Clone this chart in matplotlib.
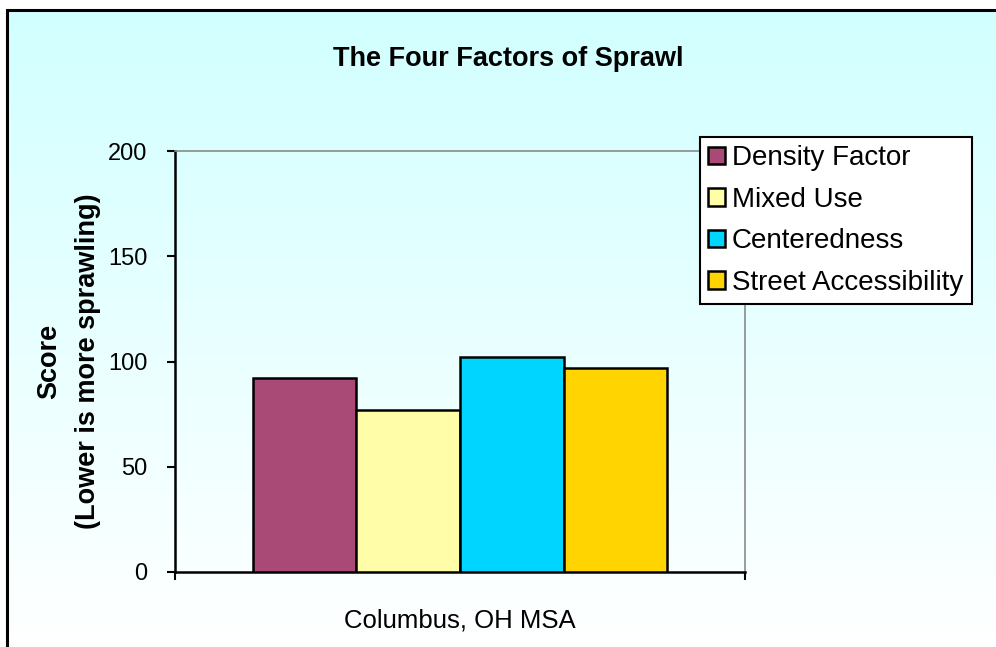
import numpy as np
import matplotlib.pyplot as plt
from matplotlib.patches import Rectangle

categories = ["Columbus, OH MSA"]
series = ["Density Factor", "Mixed Use", "Centeredness", "Street Accessibility"]
scores = [92, 77, 102, 97]
colors = ["#A94A76", "#FFFDA8", "#00D5FF", "#FFD400"]

plt.rcParams['font.family'] = ['Liberation Sans', 'DejaVu Sans']

W, H = 996, 647
fig = plt.figure(figsize=(W / 100, H / 100), dpi=100)
fig.patch.set_facecolor("white")

# background gradient inside the chart frame
x0, y0 = 7 / W, 0.0
bg = fig.add_axes([x0, y0, 1 - x0, 1 - 10 / H - y0], zorder=-2)
grad = np.linspace(0, 1, 256).reshape(-1, 1)
top = np.array([0.82, 1.0, 1.0])
bot = np.array([1.0, 1.0, 1.0])
img = top * (1 - grad[..., None]) + bot * grad[..., None]
img = np.repeat(img, 2, axis=1)
bg.imshow(img, aspect="auto", extent=[0, 1, 0, 1])
bg.set_axis_off()
fig.patches.append(Rectangle((x0, -0.01), 1.05, 1 - 10 / H + 0.01, transform=fig.transFigure,
                             fill=False, edgecolor="black", linewidth=2.2, zorder=5))

ax = fig.add_axes([175 / W, 1 - 572 / H, 570 / W, 421 / H])
ax.set_facecolor("none")

n = len(series)
bw = 0.182
offsets = (np.arange(n) - (n - 1) / 2) * bw
for i in range(n):
    ax.bar(offsets[i], scores[i], width=bw, color=colors[i], edgecolor="black",
           linewidth=1.8, label=series[i], zorder=3)

ax.set_xlim(-0.5, 0.5)
ax.set_ylim(0, 200)
ax.set_yticks([0, 50, 100, 150, 200])
ax.tick_params(axis="y", direction="out", length=6, width=1.5, labelsize=17, pad=14)
ax.set_xticks([-0.5, 0.5])
ax.set_xticklabels(["", ""])
ax.set_xticks([0], minor=True)
ax.set_xticklabels(categories, minor=True)
ax.tick_params(axis="x", which="major", direction="out", length=6, width=1.5)
ax.tick_params(axis="x", which="minor", length=0, labelsize=18.5, pad=26)

for s in ["left", "bottom"]:
    ax.spines[s].set_linewidth(1.8)
    ax.spines[s].set_color("black")
for s in ["top", "right"]:
    ax.spines[s].set_linewidth(1.2)
    ax.spines[s].set_color("#8a8a8a")

ax.set_ylabel("Score\n(Lower is more sprawling)", fontsize=19.5, fontweight="bold",
              linespacing=1.65, labelpad=5)

fig.text(508 / W, 1 - 59 / H, "The Four Factors of Sprawl", ha="center", va="center",
         fontsize=19.5, fontweight="bold")

leg = fig.legend(loc="upper left", bbox_to_anchor=(700 / W, 1 - 137 / H), fontsize=20,
                 frameon=True, fancybox=False, edgecolor="black", framealpha=1,
                 handlelength=0.6, handleheight=0.6, handletextpad=0.25,
                 labelspacing=0.56, borderpad=0.3, borderaxespad=0)
leg.get_frame().set_linewidth(1.5)

fig.savefig("out.png", dpi=100)
